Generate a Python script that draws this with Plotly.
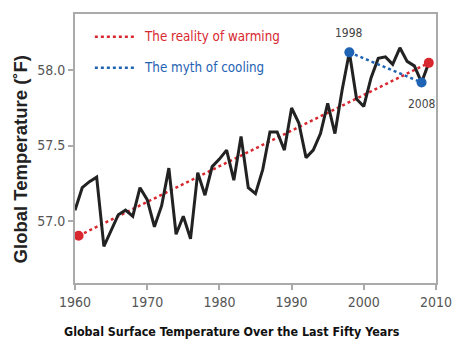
import plotly.graph_objects as go

years = list(range(1960, 2010))
temps = [57.07, 57.22, 57.26, 57.29, 56.83, 56.94, 57.04, 57.07, 57.03, 57.22,
         57.14, 56.96, 57.10, 57.35, 56.91, 57.03, 56.88, 57.32, 57.17, 57.36,
         57.41, 57.47, 57.27, 57.56, 57.22, 57.18, 57.34, 57.59, 57.59, 57.47,
         57.75, 57.65, 57.42, 57.47, 57.58, 57.78, 57.58, 57.87, 58.12, 57.81,
         57.76, 57.95, 58.08, 58.09, 58.04, 58.15, 58.06, 58.03, 57.92, 58.05]

warm_x = [1960.5, 2009]
warm_y = [56.90, 58.05]
cool_x = [1998, 2008]
cool_y = [58.12, 57.92]

x_ticks = [1960, 1970, 1980, 1990, 2000, 2010]
y_ticks = [57.0, 57.5, 58.0]
y_tick_labels = ["57.0", "57.5", "58.0"]

RED = "#d8282f"
BLUE = "#1f63b4"
FONT = "DejaVu Sans Condensed, Liberation Sans Narrow, sans-serif"

fig = go.Figure()
fig.add_trace(go.Scatter(x=warm_x, y=warm_y, mode="lines",
                         line=dict(color=RED, width=2.5, dash="dot"), showlegend=False))
fig.add_trace(go.Scatter(x=years, y=temps, mode="lines",
                         line=dict(color="#222222", width=3), showlegend=False))
fig.add_trace(go.Scatter(x=cool_x, y=cool_y, mode="lines+markers",
                         line=dict(color=BLUE, width=2.5, dash="dot"),
                         marker=dict(color=BLUE, size=10), showlegend=False))
fig.add_trace(go.Scatter(x=warm_x, y=warm_y, mode="markers",
                         marker=dict(color=RED, size=10), showlegend=False))

# year labels on cooling endpoints
fig.add_annotation(x=cool_x[0], y=cool_y[0], text="1998", showarrow=False,
                   yshift=19, font=dict(family=FONT, size=12, color="#444"))
fig.add_annotation(x=cool_x[1], y=cool_y[1], text="2008", showarrow=False,
                   yshift=-22, font=dict(family=FONT, size=12, color="#444"))

# legend (manual)
leg = [("The reality of warming", RED, 0.915), ("The myth of cooling", BLUE, 0.80)]
for text, col, yy in leg:
    fig.add_shape(type="line", xref="paper", yref="paper", x0=0.055, x1=0.17, y0=yy, y1=yy,
                  line=dict(color=col, width=2.5, dash="dot"))
    fig.add_annotation(xref="paper", yref="paper", x=0.185, y=yy, text=text,
                       showarrow=False, xanchor="left", yanchor="middle",
                       font=dict(family=FONT, size=13.3, color=col))

# axis titles as annotations (positioned like the reference)
fig.add_annotation(xref="paper", yref="paper", x=-0.152, y=0.46, text="<b>Global Temperature (˚F)</b>",
                   textangle=-90, showarrow=False, xanchor="center", yanchor="middle",
                   font=dict(family="Liberation Sans, Arial, sans-serif", size=18.5, color="#222"))
fig.add_annotation(xref="paper", yref="paper", x=0.435, y=-0.18,
                   text="<b>Global Surface Temperature Over the Last Fifty Years</b>",
                   showarrow=False, xanchor="center", yanchor="middle",
                   font=dict(family=FONT, size=12.4, color="#111"))

fig.update_layout(
    width=468, height=353,
    margin=dict(l=75, r=32, t=12, b=70),
    paper_bgcolor="white", plot_bgcolor="white",
    font=dict(family=FONT, color="#555"),
    xaxis=dict(range=[1960, 2010], tickvals=x_ticks, ticks="outside", ticklen=5,
               tickcolor="#aaa", tickwidth=2, showline=True, linecolor="#aaa", linewidth=2,
               mirror=True, showgrid=False, zeroline=False,
               tickfont=dict(family=FONT, size=14, color="#555")),
    yaxis=dict(range=[56.586, 58.375], tickvals=y_ticks, ticktext=y_tick_labels,
               ticks="outside", ticklen=5, tickcolor="#aaa", tickwidth=2,
               showline=True, linecolor="#aaa", linewidth=2, mirror=True,
               showgrid=False, zeroline=False,
               tickfont=dict(family=FONT, size=14, color="#555")),
)

fig.write_html("out.html")
